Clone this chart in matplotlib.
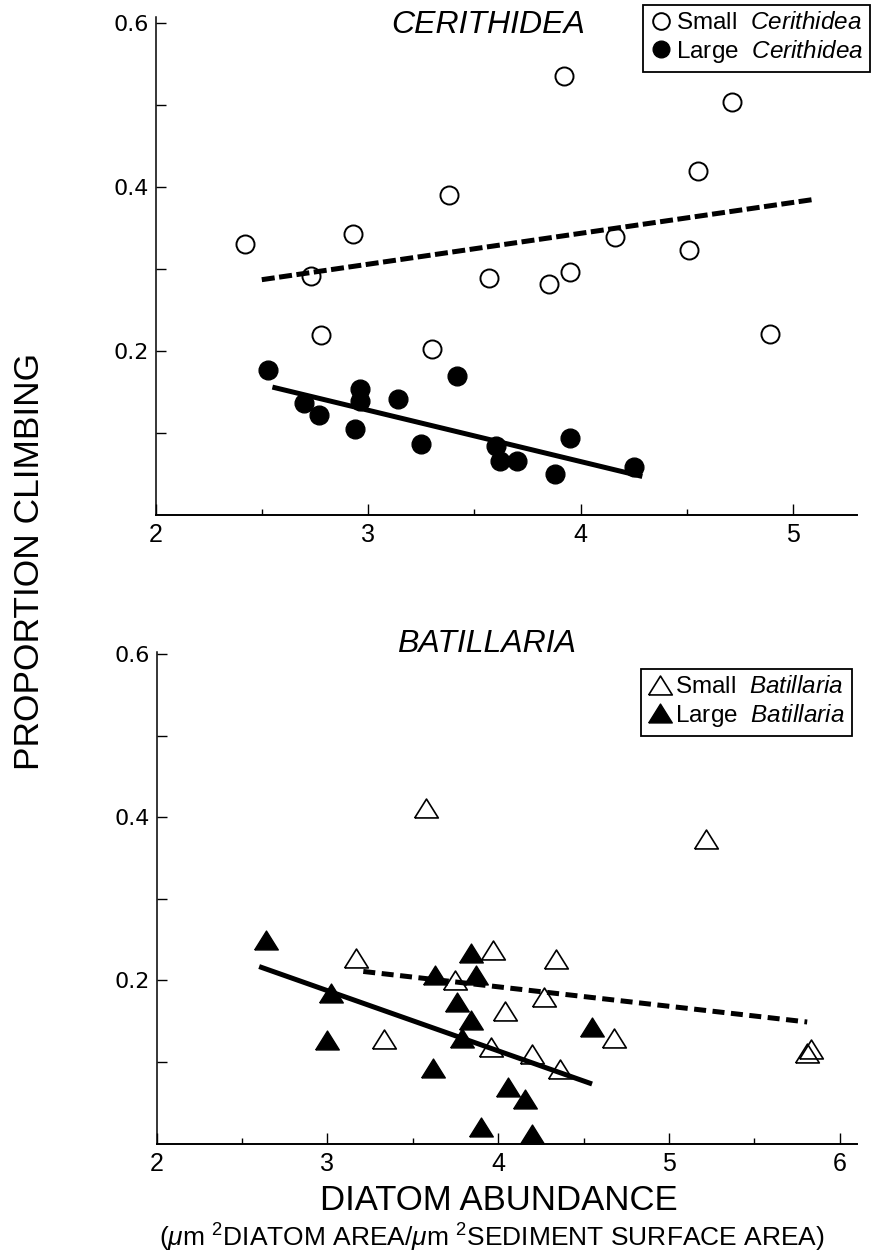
import matplotlib
matplotlib.use("Agg")
import matplotlib.pyplot as plt
from matplotlib import font_manager
from matplotlib.lines import Line2D
from matplotlib.ticker import FixedLocator

# ---------------- data ----------------
cer_small_x = [2.42, 2.73, 2.78, 2.93, 3.30, 3.38, 3.57, 3.85, 3.92, 3.95, 4.16, 4.51, 4.55, 4.71, 4.89]
cer_small_y = [0.331, 0.291, 0.220, 0.343, 0.203, 0.390, 0.289, 0.282, 0.536, 0.296, 0.339, 0.323, 0.419, 0.504, 0.221]
cer_large_x = [2.53, 2.70, 2.77, 2.94, 2.96, 2.96, 3.14, 3.25, 3.42, 3.60, 3.62, 3.70, 3.88, 3.95, 4.25]
cer_large_y = [0.177, 0.136, 0.122, 0.105, 0.154, 0.139, 0.142, 0.086, 0.170, 0.084, 0.066, 0.066, 0.050, 0.094, 0.058]
cer_small_fit_x = [2.50, 5.10]
cer_small_fit_y = [0.287, 0.385]
cer_large_fit_x = [2.55, 4.29]
cer_large_fit_y = [0.156, 0.047]

bat_small_x = [3.17, 3.33, 3.58, 3.75, 3.97, 3.96, 4.04, 4.20, 4.27, 4.34, 4.36, 4.68, 5.22, 5.81, 5.83]
bat_small_y = [0.228, 0.128, 0.412, 0.200, 0.237, 0.118, 0.162, 0.110, 0.180, 0.226, 0.091, 0.129, 0.373, 0.111, 0.116]
bat_large_x = [2.64, 3.02, 3.00, 3.63, 3.84, 3.87, 3.76, 3.84, 3.79, 3.62, 4.06, 4.16, 3.90, 4.20, 4.55]
bat_large_y = [0.249, 0.184, 0.127, 0.207, 0.234, 0.207, 0.173, 0.151, 0.129, 0.092, 0.069, 0.054, 0.020, 0.012, 0.143]
bat_small_fit_x = [3.21, 5.81]
bat_small_fit_y = [0.211, 0.149]
bat_large_fit_x = [2.60, 4.55]
bat_large_fit_y = [0.217, 0.073]

y_ticks = [0.1, 0.2, 0.3, 0.4, 0.5, 0.6]
y_ticklabels = ["", "0.2", "", "0.4", "", "0.6"]
cer_xticks = [2, 3, 4, 5]
bat_xticks = [2, 3, 4, 5, 6]

# ---------------- fonts ----------------
installed = {f.name for f in font_manager.fontManager.ttflist}
base_font = "Liberation Sans"
narrow_font = "Liberation Sans Narrow" if "Liberation Sans Narrow" in installed else base_font

plt.rcParams["font.family"] = [base_font, "DejaVu Sans"]
plt.rcParams["mathtext.fontset"] = "custom"
plt.rcParams["mathtext.rm"] = base_font
plt.rcParams["mathtext.it"] = base_font + ":italic"
plt.rcParams["mathtext.bf"] = base_font + ":bold"

W, H = 875, 1260
fig = plt.figure(figsize=(W / 100, H / 100), dpi=100)

def px_axes(left, right, y0, ytop):
    return [left / W, 1 - y0 / H, (right - left) / W, (y0 - ytop) / H]

ax1 = fig.add_axes(px_axes(155.5, 857, 515, 17.3))
ax2 = fig.add_axes(px_axes(156.7, 856.7, 1143.5, 651.8))

tri = [(-1, -0.8), (1, -0.8), (0, 0.8), (-1, -0.8)]

def style_axes(ax, xlim, ylim, xticks):
    ax.set_xlim(*xlim)
    ax.set_ylim(*ylim)
    for s in ("top", "right"):
        ax.spines[s].set_visible(False)
    ax.spines["left"].set_linewidth(1.1)
    ax.spines["bottom"].set_linewidth(1.4)
    ax.xaxis.set_major_locator(FixedLocator(xticks))
    ax.xaxis.set_minor_locator(FixedLocator([t + 0.5 for t in xticks[:-1]]))
    ax.set_xticklabels([str(t) for t in xticks], fontfamily=narrow_font, fontsize=18)
    ax.yaxis.set_major_locator(FixedLocator(y_ticks))
    ax.set_yticklabels(y_ticklabels, fontfamily="DejaVu Sans", fontsize=16)
    ax.tick_params(axis="x", which="major", direction="in", length=8, width=1.0, pad=6)
    ax.tick_params(axis="x", which="minor", direction="in", length=4, width=1.0)
    ax.tick_params(axis="y", which="major", direction="in", length=7, width=1.0, pad=5)

# ---------------- Cerithidea ----------------
style_axes(ax1, (2.0, 5.3), (0.0, 0.607), cer_xticks)
ax1.plot(cer_small_fit_x, cer_small_fit_y, color="black", lw=3.6, dashes=(2.6, 0.9), zorder=3)
ax1.plot(cer_large_fit_x, cer_large_fit_y, color="black", lw=3.6, solid_capstyle="butt", zorder=3)
ax1.plot(cer_small_x, cer_small_y, ls="none", marker="o", ms=13, mfc="none", mec="black", mew=1.4,
         clip_on=False, zorder=2)
ax1.plot(cer_large_x, cer_large_y, ls="none", marker="o", ms=13.5, mfc="black", mec="black", mew=1.0,
         clip_on=False, zorder=2)
ax1.text(3.567, 0.598, "CERITHIDEA", style="italic", fontsize=23, ha="center", va="center")

cer_handles = [
    Line2D([], [], ls="none", marker="o", ms=12, mfc="none", mec="black", mew=1.4),
    Line2D([], [], ls="none", marker="o", ms=12, mfc="black", mec="black"),
]
cer_labels = [r"Small  $\mathit{Cerithidea}$", r"Large  $\mathit{Cerithidea}$"]
leg1 = fig.legend(cer_handles, cer_labels, loc="upper left",
                  bbox_to_anchor=(643 / W, 1 - 5 / H), bbox_transform=fig.transFigure,
                  fontsize=17.5, frameon=True, fancybox=False, edgecolor="black", framealpha=1,
                  borderpad=0.3, handletextpad=0.15, handlelength=0.9, labelspacing=0.15,
                  borderaxespad=0)
leg1.get_frame().set_linewidth(1.3)

# ---------------- Batillaria ----------------
style_axes(ax2, (2.0, 6.1), (0.0, 0.603), bat_xticks)
ax2.plot(bat_small_fit_x, bat_small_fit_y, color="black", lw=3.6, dashes=(2.4, 1.3), zorder=3)
ax2.plot(bat_large_fit_x, bat_large_fit_y, color="black", lw=3.6, solid_capstyle="butt", zorder=3)
ax2.plot(bat_small_x, bat_small_y, ls="none", marker=tri, ms=17, mfc="none", mec="black", mew=1.2,
         clip_on=False, zorder=2)
ax2.plot(bat_large_x, bat_large_y, ls="none", marker=tri, ms=17, mfc="black", mec="black", mew=1.0,
         clip_on=False, zorder=2)
ax2.text(3.93, 0.612, "BATILLARIA", style="italic", fontsize=23, ha="center", va="center")

bat_handles = [
    Line2D([], [], ls="none", marker=tri, ms=17, mfc="none", mec="black", mew=1.2),
    Line2D([], [], ls="none", marker=tri, ms=17, mfc="black", mec="black"),
]
bat_labels = [r"Small  $\mathit{Batillaria}$", r"Large  $\mathit{Batillaria}$"]
leg2 = fig.legend(bat_handles, bat_labels, loc="upper left",
                  bbox_to_anchor=(641 / W, 1 - 669 / H), bbox_transform=fig.transFigure,
                  fontsize=17.5, frameon=True, fancybox=False, edgecolor="black", framealpha=1,
                  borderpad=0.3, handletextpad=0.1, handlelength=1.0, labelspacing=0.15,
                  borderaxespad=0)
leg2.get_frame().set_linewidth(1.3)

# ---------------- shared labels ----------------
fig.text(30 / W, 1 - 561 / H, "PROPORTION CLIMBING", rotation=90, fontsize=25.5,
         ha="center", va="center")
fig.text(499 / W, 1 - 1200 / H, "DIATOM ABUNDANCE", fontsize=25, ha="center", va="center")
fig.text(492 / W, 1 - 1238 / H,
         r"($\mathit{\mu}$m $^{2}$DIATOM AREA/$\mathit{\mu}$m $^{2}$SEDIMENT SURFACE AREA)",
         fontsize=19, ha="center", va="center")

fig.savefig("out.png", dpi=100, facecolor="white")
